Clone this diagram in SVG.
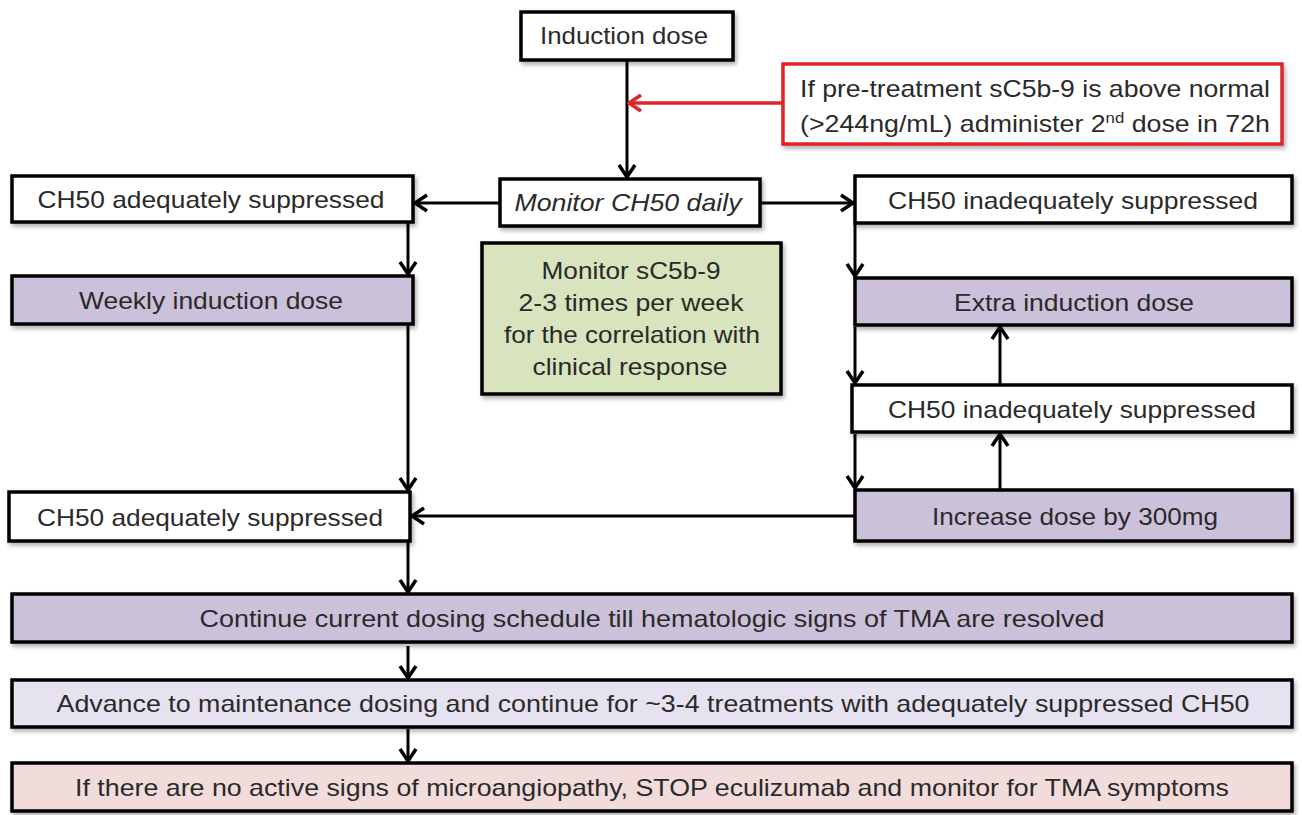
<svg xmlns="http://www.w3.org/2000/svg" width="1302" height="815" viewBox="0 0 1302 815">
<defs>
<filter id="sh" x="-5%" y="-10%" width="110%" height="130%">
<feDropShadow dx="2" dy="3" stdDeviation="2" flood-color="#000" flood-opacity="0.3"/>
</filter>
<marker id="ah" viewBox="0 0 16 20" refX="14" refY="10" markerWidth="16" markerHeight="20" markerUnits="userSpaceOnUse" orient="auto">
<path d="M2,2 L14,10 L2,18" fill="none" stroke="#000" stroke-width="3.5"/>
</marker>
<marker id="ahr" viewBox="0 0 16 20" refX="14" refY="10" markerWidth="16" markerHeight="20" markerUnits="userSpaceOnUse" orient="auto">
<path d="M2,2 L14,10 L2,18" fill="none" stroke="#e0242c" stroke-width="3.5"/>
</marker>
</defs>
<style>
.b{stroke:#000;stroke-width:3.5;filter:url(#sh)}
.w{fill:#fff}
.p{fill:#ccc1da}
.g{fill:#d7e4bd}
.l{fill:#e6e2ef}
.k{fill:#f2dcdb}
.r{fill:#fff;stroke:#e0242c;stroke-width:3.5;filter:url(#sh)}
text{font-family:"Liberation Sans",Arial,sans-serif;font-size:24px;fill:#2a2a2a;text-anchor:middle}
.c{stroke:#000;stroke-width:3;fill:none;marker-end:url(#ah)}
.cr{stroke:#e0242c;stroke-width:3.5;fill:none;marker-end:url(#ahr)}
</style>
<rect width="1302" height="815" fill="#fff"/>
<g id="connectors">
<path class="c" d="M627,60 V177"/>
<path class="cr" d="M783,103 H629"/>
<path class="c" d="M500,203 H415"/>
<path class="c" d="M760,203 H853"/>
<path class="c" d="M408,222 V274"/>
<path class="c" d="M408,324 V490"/>
<path class="c" d="M855,223 V276"/>
<path class="c" d="M855,327 V383"/>
<path class="c" d="M1000,385 V327"/>
<path class="c" d="M855,434 V488"/>
<path class="c" d="M1000,490 V434"/>
<path class="c" d="M855,516 H412"/>
<path class="c" d="M408,541 V592"/>
<path class="c" d="M408,646 V678"/>
<path class="c" d="M408,729 V761"/>
</g>
<g id="induction"><rect class="b w" x="521" y="12" width="212" height="48"/><text x="624" y="44" textLength="168" lengthAdjust="spacingAndGlyphs">Induction dose</text></g>
<g id="note"><rect class="r" x="783" y="64" width="499" height="80"/>
<text x="1035" y="97" textLength="470" lengthAdjust="spacingAndGlyphs">If pre-treatment sC5b-9 is above normal</text>
<text x="1035" y="132" textLength="470" lengthAdjust="spacingAndGlyphs">(&gt;244ng/mL) administer 2<tspan font-size="15" dy="-9">nd</tspan><tspan dy="9"> dose in 72h</tspan></text></g>
<g id="monitor"><rect class="b w" x="500" y="179" width="260" height="47"/><text x="628" y="211" font-style="italic" textLength="227" lengthAdjust="spacingAndGlyphs">Monitor CH50 daily</text></g>
<g id="adeq1"><rect class="b w" x="12" y="176" width="401" height="46"/><text x="211" y="208" textLength="347" lengthAdjust="spacingAndGlyphs">CH50 adequately suppressed</text></g>
<g id="inadeq1"><rect class="b w" x="855" y="176" width="437" height="47"/><text x="1073" y="209" textLength="370" lengthAdjust="spacingAndGlyphs">CH50 inadequately suppressed</text></g>
<g id="weekly"><rect class="b p" x="12" y="276" width="401" height="48"/><text x="211" y="309" textLength="264" lengthAdjust="spacingAndGlyphs">Weekly induction dose</text></g>
<g id="sc5b9"><rect class="b g" x="482" y="243" width="299" height="151"/>
<text x="631" y="279" textLength="179" lengthAdjust="spacingAndGlyphs">Monitor sC5b-9</text>
<text x="631" y="311" textLength="225" lengthAdjust="spacingAndGlyphs">2-3 times per week</text>
<text x="632" y="343" textLength="256" lengthAdjust="spacingAndGlyphs">for the correlation with</text>
<text x="630" y="375" textLength="195" lengthAdjust="spacingAndGlyphs">clinical response</text></g>
<g id="extra"><rect class="b p" x="855" y="278" width="437" height="47"/><text x="1074" y="311" textLength="240" lengthAdjust="spacingAndGlyphs">Extra induction dose</text></g>
<g id="inadeq2"><rect class="b w" x="852" y="385" width="440" height="47"/><text x="1072" y="418" textLength="368" lengthAdjust="spacingAndGlyphs">CH50 inadequately suppressed</text></g>
<g id="increase"><rect class="b p" x="855" y="490" width="437" height="51"/><text x="1075" y="525" textLength="286" lengthAdjust="spacingAndGlyphs">Increase dose by 300mg</text></g>
<g id="adeq2"><rect class="b w" x="9" y="492" width="401" height="49"/><text x="210" y="526" textLength="346" lengthAdjust="spacingAndGlyphs">CH50 adequately suppressed</text></g>
<g id="continue"><rect class="b p" x="12" y="594" width="1280" height="48"/><text x="652" y="627" textLength="905" lengthAdjust="spacingAndGlyphs">Continue current dosing schedule till hematologic signs of TMA are resolved</text></g>
<g id="advance"><rect class="b l" x="12" y="680" width="1280" height="47"/><text x="653" y="712" textLength="1193" lengthAdjust="spacingAndGlyphs">Advance to maintenance dosing and continue for ~3-4 treatments with adequately suppressed CH50</text></g>
<g id="stop"><rect class="b k" x="12" y="763" width="1280" height="48"/><text x="652" y="796" textLength="1154" lengthAdjust="spacingAndGlyphs">If there are no active signs of microangiopathy, STOP eculizumab and monitor for TMA symptoms</text></g>
</svg>
